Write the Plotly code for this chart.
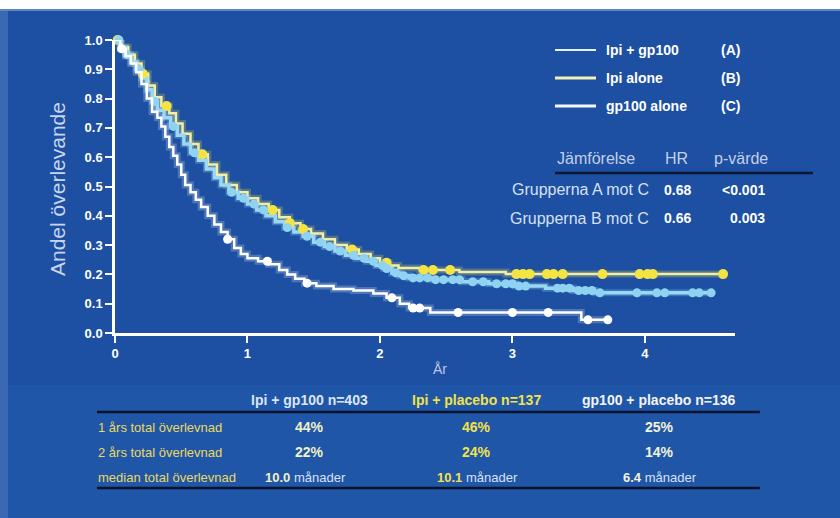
import numpy as np
import plotly.graph_objects as go

W, H = 840, 518

# ---------------- data ----------------
# Group A: Ipi + gp100 (light blue)
a_t = [0, 0.04, 0.08, 0.12, 0.16, 0.20, 0.24, 0.28, 0.32, 0.37,
       0.42, 0.47, 0.52, 0.57, 0.63, 0.69, 0.75, 0.80, 0.86, 0.93,
       1.00, 1.07, 1.14, 1.21, 1.28, 1.35, 1.42, 1.50, 1.58, 1.66,
       1.74, 1.82, 1.90, 1.97, 2.03, 2.09, 2.15, 2.22, 2.40, 2.62,
       2.82, 3.02, 3.25, 3.46, 3.62, 4.50]
a_s = [1.00, 0.975, 0.95, 0.925, 0.90, 0.87, 0.83, 0.79, 0.76, 0.735,
       0.705, 0.675, 0.645, 0.615, 0.59, 0.56, 0.53, 0.505, 0.48, 0.46,
       0.44, 0.42, 0.40, 0.38, 0.36, 0.345, 0.33, 0.31, 0.295, 0.28,
       0.265, 0.255, 0.245, 0.23, 0.22, 0.205, 0.195, 0.188, 0.182, 0.175,
       0.168, 0.160, 0.153, 0.145, 0.137, 0.137]
a_cens = [0.03, 0.09, 0.18, 0.30, 0.44, 0.60, 0.88, 0.97, 1.05, 1.12,
          1.30, 1.45, 1.55, 1.62, 1.70, 1.80, 1.88, 1.95, 2.02, 2.05,
          2.12, 2.18, 2.25, 2.30, 2.36, 2.42, 2.48, 2.55, 2.60, 2.70,
          2.78, 2.88, 2.95, 3.00, 3.05, 3.10, 3.34, 3.38, 3.43, 3.50,
          3.55, 3.60, 3.66, 3.94, 4.09, 4.15, 4.36, 4.41, 4.50]

# Group B: Ipi alone (yellow)
b_t = [0, 0.05, 0.10, 0.15, 0.20, 0.25, 0.30, 0.35, 0.41, 0.46,
       0.51, 0.57, 0.63, 0.70, 0.77, 0.84, 0.92, 1.00, 1.08, 1.16,
       1.24, 1.32, 1.40, 1.48, 1.57, 1.66, 1.75, 1.84, 1.93, 2.00,
       2.07, 2.14, 2.30, 2.60, 2.95, 4.59]
b_s = [1.00, 0.975, 0.95, 0.92, 0.885, 0.845, 0.805, 0.775, 0.75, 0.715,
       0.68, 0.645, 0.61, 0.575, 0.54, 0.505, 0.48, 0.46, 0.44, 0.42,
       0.395, 0.375, 0.355, 0.34, 0.32, 0.30, 0.285, 0.27, 0.255, 0.24,
       0.23, 0.222, 0.215, 0.208, 0.201, 0.201]
b_cens = [0.02, 0.21, 0.39, 0.66, 1.19, 1.32, 1.42, 1.79, 2.05, 2.33,
          2.40, 2.53, 3.03, 3.08, 3.13, 3.26, 3.31, 3.38, 3.68, 3.96,
          4.02, 4.06, 4.59]

# Group C: gp100 alone (white)
c_t = [0, 0.04, 0.08, 0.12, 0.16, 0.20, 0.24, 0.28, 0.32, 0.35,
       0.38, 0.41, 0.44, 0.47, 0.50, 0.53, 0.57, 0.61, 0.65, 0.70,
       0.75, 0.80, 0.85, 0.90, 0.95, 1.00, 1.08, 1.16, 1.24, 1.30,
       1.36, 1.43, 1.52, 1.65, 1.80, 1.95, 2.05, 2.15, 2.22, 2.38,
       3.52, 3.72]
c_s = [1.00, 0.97, 0.945, 0.92, 0.89, 0.85, 0.80, 0.755, 0.735, 0.705,
       0.67, 0.635, 0.605, 0.575, 0.54, 0.505, 0.48, 0.455, 0.43, 0.40,
       0.37, 0.345, 0.32, 0.29, 0.27, 0.255, 0.245, 0.235, 0.215, 0.20,
       0.185, 0.17, 0.16, 0.15, 0.145, 0.135, 0.12, 0.10, 0.085, 0.07,
       0.045, 0.045]
c_cens = [0.05, 0.85, 1.15, 1.45, 2.09, 2.25, 2.30, 2.59, 3.00, 3.27,
          3.57, 3.72]

y_ticks = [0.0, 0.1, 0.2, 0.3, 0.4, 0.5, 0.6, 0.7, 0.8, 0.9, 1.0]
y_tick_labels = ["0.0", "0.1", "0.2", "0.3", "0.4", "0.5", "0.6", "0.7", "0.8", "0.9", "1.0"]
x_ticks = [0, 1, 2, 3, 4]
x_tick_labels = ["0", "1", "2", "3", "4"]

legend_labels = ["Ipi + gp100", "Ipi alone", "gp100 alone"]
legend_codes = ["(A)", "(B)", "(C)"]

cmp_header = ["Jämförelse", "HR", "p-värde"]
cmp_groups = ["Grupperna A mot C", "Grupperna B mot C"]
cmp_hr = ["0.68", "0.66"]
cmp_p = ["<0.001", "0.003"]

tbl_headers = ["Ipi + gp100 n=403", "Ipi + placebo n=137", "gp100 + placebo n=136"]
tbl_rows = ["1 års total överlevnad", "2 års total överlevnad", "median total överlevnad"]
tbl_1yr = ["44%", "46%", "25%"]
tbl_2yr = ["22%", "24%", "14%"]
tbl_median = ["10.0", "10.1", "6.4"]
tbl_unit = "månader"

# ---------------- helpers ----------------
FONT = "Liberation Sans, Arial, sans-serif"


def px(x):
    return x / W


def py(y):
    return 1 - y / H


def surv_at(t_arr, s_arr, tq):
    t_arr = np.asarray(t_arr)
    s_arr = np.asarray(s_arr)
    idx = np.searchsorted(t_arr, np.asarray(tq), side="right") - 1
    idx = np.clip(idx, 0, len(s_arr) - 1)
    return s_arr[idx]


COL_A = "#8fd2f2"
COL_A_LINE = "#9ad8f4"
COL_B = "#f3e443"
COL_B_LINE = "#f2eeaa"
COL_C = "#ffffff"

fig = go.Figure()

# glow underlays
for t, s, col in [(b_t, b_s, "rgba(243,228,67,0.25)"),
                  (a_t, a_s, "rgba(143,210,242,0.30)"),
                  (c_t, c_s, "rgba(255,255,255,0.22)")]:
    fig.add_trace(go.Scatter(x=t, y=s, mode="lines", line=dict(color=col, width=7, shape="hv"),
                             hoverinfo="skip", showlegend=False, cliponaxis=False))

fig.add_trace(go.Scatter(x=b_t, y=b_s, mode="lines", name="Ipi alone",
                         line=dict(color=COL_B_LINE, width=2.5, shape="hv"),
                         showlegend=False, cliponaxis=False))
fig.add_trace(go.Scatter(x=a_t, y=a_s, mode="lines", name="Ipi + gp100",
                         line=dict(color=COL_A_LINE, width=3.5, shape="hv"),
                         showlegend=False, cliponaxis=False))
fig.add_trace(go.Scatter(x=b_cens, y=surv_at(b_t, b_s, b_cens), mode="markers",
                         marker=dict(color=COL_B, size=10, line=dict(width=0)),
                         showlegend=False, cliponaxis=False, hoverinfo="skip"))
fig.add_trace(go.Scatter(x=a_cens, y=surv_at(a_t, a_s, a_cens), mode="markers",
                         marker=dict(color=COL_A, size=9, line=dict(width=0)),
                         showlegend=False, cliponaxis=False, hoverinfo="skip"))
fig.add_trace(go.Scatter(x=c_t, y=c_s, mode="lines", name="gp100 alone",
                         line=dict(color=COL_C, width=2.5, shape="hv"),
                         showlegend=False, cliponaxis=False))
fig.add_trace(go.Scatter(x=c_cens, y=surv_at(c_t, c_s, c_cens), mode="markers",
                         marker=dict(color=COL_C, size=9, line=dict(width=0)),
                         showlegend=False, cliponaxis=False, hoverinfo="skip"))

shapes = [
    # white strip at top and lighter left edge
    dict(type="rect", xref="paper", yref="paper", x0=0, x1=1, y0=py(9), y1=1,
         fillcolor="#ffffff", line=dict(width=0), layer="below"),
    dict(type="rect", xref="paper", yref="paper", x0=0, x1=px(8), y0=0, y1=py(9),
         fillcolor="#3a68b4", line=dict(width=0), layer="below"),
    dict(type="line", xref="paper", yref="paper", x0=0, x1=1, y0=py(10), y1=py(10),
         line=dict(color="#5f85c4", width=2), layer="below"),
    # lower part slightly lighter
    dict(type="rect", xref="paper", yref="paper", x0=px(8), x1=1, y0=0, y1=py(385),
         fillcolor="#2056a8", line=dict(width=0), layer="below"),
]

annotations = []

# legend
leg_y = [50, 78, 106]
leg_colors = ["#e4f2ff", "#f4f0b8", "#f4f8ff"]
leg_widths = [2, 3, 3]
for lab, code, yy, lc, lw in zip(legend_labels, legend_codes, leg_y, leg_colors, leg_widths):
    shapes.append(dict(type="line", xref="paper", yref="paper", x0=px(555), x1=px(596),
                       y0=py(yy), y1=py(yy), line=dict(color=lc, width=lw)))
    annotations.append(dict(x=px(604), y=py(yy), xref="paper", yref="paper", text=f"<b>{lab}</b>",
                            showarrow=False, xanchor="left", yanchor="middle",
                            font=dict(family=FONT, size=14, color="#ffffff")))
    annotations.append(dict(x=px(719), y=py(yy), xref="paper", yref="paper", text=f"<b>{code}</b>",
                            showarrow=False, xanchor="left", yanchor="middle",
                            font=dict(family=FONT, size=14, color="#ffffff")))

# comparison table
for txt, cx in zip(cmp_header, [596, 676, 741]):
    annotations.append(dict(x=px(cx), y=py(159), xref="paper", yref="paper", text=txt,
                            showarrow=False, xanchor="center", yanchor="middle",
                            font=dict(family=FONT, size=16, color="#c3cfe6")))
shapes.append(dict(type="line", xref="paper", yref="paper", x0=px(555), x1=px(813),
                   y0=py(173), y1=py(173), line=dict(color="#0b1632", width=2.5)))
for g, hr, p, yy in zip(cmp_groups, cmp_hr, cmp_p, [190, 218]):
    annotations.append(dict(x=px(651), y=py(yy), xref="paper", yref="paper", text=g,
                            showarrow=False, xanchor="right", yanchor="middle",
                            font=dict(family=FONT, size=16, color="#d6e0f2")))
    annotations.append(dict(x=px(677), y=py(yy), xref="paper", yref="paper", text=f"<b>{hr}</b>",
                            showarrow=False, xanchor="center", yanchor="middle",
                            font=dict(family=FONT, size=14, color="#ffffff")))
    annotations.append(dict(x=px(767), y=py(yy), xref="paper", yref="paper", text=f"<b>{p}</b>",
                            showarrow=False, xanchor="right", yanchor="middle",
                            font=dict(family=FONT, size=14, color="#ffffff")))

# bottom table
col_cx = [309, 476, 659]
head_cols = ["#dce6f6", "#f2e24a", "#f4f4f4"]
val_cols = ["#f2f0c6", "#f2e24a", "#f4f2da"]
for txt, cx, cc in zip(tbl_headers, col_cx, head_cols):
    annotations.append(dict(x=px(cx), y=py(400), xref="paper", yref="paper", text=f"<b>{txt}</b>",
                            showarrow=False, xanchor="center", yanchor="middle",
                            font=dict(family=FONT, size=14, color=cc)))
shapes.append(dict(type="line", xref="paper", yref="paper", x0=px(97), x1=px(760),
                   y0=py(412), y1=py(412), line=dict(color="#08122a", width=2.5)))
shapes.append(dict(type="line", xref="paper", yref="paper", x0=px(97), x1=px(760),
                   y0=py(488), y1=py(488), line=dict(color="#08122a", width=2.5)))
row_y = [427, 452, 477]
for lab, yy in zip(tbl_rows, row_y):
    annotations.append(dict(x=px(96), y=py(yy), xref="paper", yref="paper", text=lab,
                            showarrow=False, xanchor="left", yanchor="middle",
                            font=dict(family=FONT, size=13, color="#ead95e")))
for vals, yy in [(tbl_1yr, row_y[0]), (tbl_2yr, row_y[1])]:
    for v, cx, cc in zip(vals, col_cx, val_cols):
        annotations.append(dict(x=px(cx), y=py(yy), xref="paper", yref="paper", text=f"<b>{v}</b>",
                                showarrow=False, xanchor="center", yanchor="middle",
                                font=dict(family=FONT, size=14, color=cc)))
for v, cx, cc in zip(tbl_median, [305, 477, 660], val_cols):
    annotations.append(dict(x=px(cx), y=py(row_y[2]), xref="paper", yref="paper",
                            text=f"<b>{v}</b> <span style='color:#d8e2f2'>{tbl_unit}</span>",
                            showarrow=False, xanchor="center", yanchor="middle",
                            font=dict(family=FONT, size=13, color=cc)))

# axis titles
annotations.append(dict(x=px(57), y=py(189), xref="paper", yref="paper", text="Andel överlevande",
                        textangle=-90, showarrow=False, xanchor="center", yanchor="middle",
                        font=dict(family=FONT, size=21, color="#c9d5ec")))
annotations.append(dict(x=px(440), y=py(369), xref="paper", yref="paper", text="År",
                        showarrow=False, xanchor="center", yanchor="middle",
                        font=dict(family=FONT, size=14, color="#b9c8e4")))

fig.update_layout(
    width=W, height=H,
    margin=dict(l=0, r=0, t=0, b=0),
    paper_bgcolor="#1d50a2",
    plot_bgcolor="rgba(0,0,0,0)",
    showlegend=False,
    hovermode=False,
    shapes=shapes,
    annotations=annotations,
    xaxis=dict(domain=[px(115), px(735)], range=[0, 4.68], automargin=False,
               tickvals=x_ticks, ticktext=x_tick_labels, ticks="outside", ticklen=7, tickwidth=2,
               tickcolor="#ffffff", showline=True, linecolor="#ffffff", linewidth=2.5,
               showgrid=False, zeroline=False,
               tickfont=dict(family=FONT, size=13, color="#ffffff", weight="bold")),
    yaxis=dict(domain=[py(333), py(40)], range=[0, 1.0], automargin=False,
               tickvals=y_ticks, ticktext=y_tick_labels, ticks="outside", ticklen=7, tickwidth=2,
               tickcolor="#ffffff", showline=True, linecolor="#ffffff", linewidth=2.5,
               showgrid=False, zeroline=False,
               tickfont=dict(family=FONT, size=13, color="#ffffff", weight="bold")),
)

fig.write_html("out.html", config={"displayModeBar": False},
               post_script="document.body.style.margin='0';document.body.style.overflow='hidden';")
